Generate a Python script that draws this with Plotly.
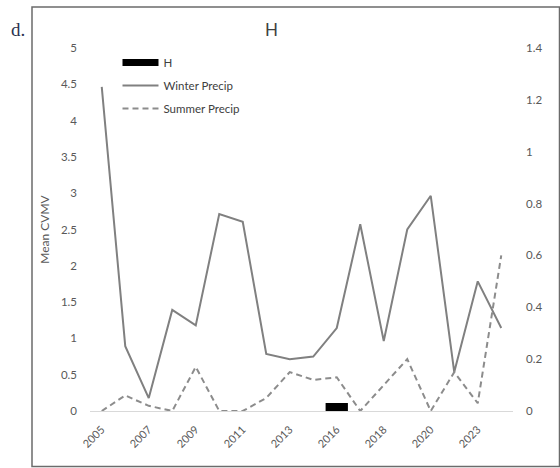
import plotly.graph_objects as go

# Years on the category axis (two years are absent from the series)
years = ["2005", "2006", "2007", "2008", "2009", "2010", "2011", "2012", "2013",
         "2014", "2016", "2017", "2018", "2019", "2020", "2021", "2023", "2024"]
tick_years = ["2005", "2007", "2009", "2011", "2013", "2016", "2018", "2020", "2023"]

# Mean CVMV for H (left axis)
h_years = ["2016"]
h_values = [0.11]

# Precipitation series (right axis)
winter_precip = [1.25, 0.25, 0.05, 0.39, 0.33, 0.76, 0.73, 0.22, 0.20,
                 0.21, 0.32, 0.72, 0.27, 0.70, 0.83, 0.15, 0.50, 0.32]
summer_precip = [0.00, 0.06, 0.02, 0.00, 0.17, 0.00, 0.00, 0.05, 0.15,
                 0.12, 0.13, 0.00, 0.10, 0.20, 0.00, 0.15, 0.03, 0.60]

FONT = "Lato, 'Open Sans', sans-serif"
TXT = "#595959"

fig = go.Figure()

fig.add_trace(go.Bar(
    x=h_years, y=h_values, name="H", width=0.95,
    marker=dict(color="black", line=dict(width=0)),
    showlegend=False, yaxis="y",
))
# legend key for H drawn as a thick black line
fig.add_trace(go.Scatter(
    x=[None], y=[None], mode="lines", name="H", legendgroup="h",
    line=dict(color="black", width=7), yaxis="y",
))
fig.add_trace(go.Scatter(
    x=years, y=winter_precip, mode="lines", name="Winter Precip",
    legendgroup="w", line=dict(color="#808080", width=2), yaxis="y2",
))
fig.add_trace(go.Scatter(
    x=years, y=summer_precip, mode="lines", name="Summer Precip",
    legendgroup="s", line=dict(color="#8c8c8c", width=2, dash="6px,4px"),
    yaxis="y2",
))

fig.update_layout(
    width=560, height=468,
    margin=dict(l=90, r=47, t=48, b=57),
    paper_bgcolor="white", plot_bgcolor="white",
    font=dict(family=FONT, size=11, color=TXT),
    bargap=0.05,
    xaxis=dict(
        type="category", categoryorder="array", categoryarray=years,
        range=[-0.5, len(years) - 0.5],
        tickmode="array", tickvals=tick_years, ticktext=tick_years,
        tickangle=-45, showgrid=False, showline=False, ticks="",
        ticklabelstandoff=9,
        tickfont=dict(size=11, color=TXT),
    ),
    yaxis=dict(
        range=[0, 5], dtick=0.5, showgrid=False, showline=False,
        zeroline=True, zerolinecolor="#d9d9d9", zerolinewidth=1,
        ticks="", ticklabelstandoff=12,
        title=dict(text="Mean CVMV", font=dict(size=12, color=TXT), standoff=8),
        tickfont=dict(size=11.5, color=TXT),
    ),
    yaxis2=dict(
        range=[0, 1.4], dtick=0.2, overlaying="y", side="right",
        showgrid=False, showline=False, zeroline=False, ticks="",
        ticklabelstandoff=12, tickfont=dict(size=11.5, color=TXT),
    ),
    legend=dict(
        x=0.065, y=1.0, xanchor="left", yanchor="top",
        bgcolor="rgba(0,0,0,0)", traceorder="grouped", tracegroupgap=4,
        font=dict(size=11.5, color="#404040"), itemwidth=36,
    ),
    title=dict(text="H", x=0.485, xanchor="center", y=0.935, yanchor="middle",
               font=dict(size=17, color="#404040", family=FONT)),
    shapes=[dict(
        type="rect", xref="paper", yref="paper",
        x0=(32 - 90) / 423, x1=(559.5 - 90) / 423,
        y0=(411 - 466.5) / 363, y1=(411 - 7) / 363,
        line=dict(color="#6b6b6b", width=1.5), fillcolor="rgba(0,0,0,0)",
        layer="below",
    )],
    annotations=[dict(
        text="d.", xref="paper", yref="paper",
        x=(18 - 90) / 423, y=(411 - 30) / 363,
        xanchor="center", yanchor="middle", showarrow=False,
        font=dict(family="'Liberation Serif', serif", size=19, color="#2b3350"),
    )],
)

fig.write_html("out.html")
